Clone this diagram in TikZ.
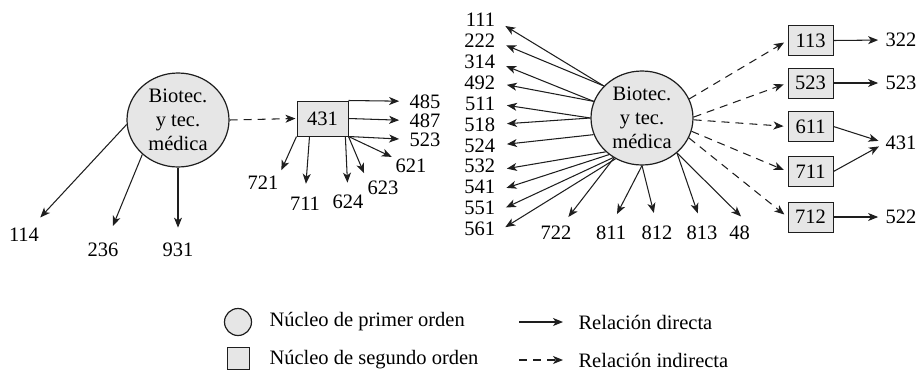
\documentclass[tikz,border=0pt]{standalone}
\usepackage{fontspec}
\setmainfont{Liberation Serif}
\usetikzlibrary{shapes.geometric,arrows.meta,calc}
\definecolor{nodefill}{HTML}{E6E6E6}
\definecolor{ink}{HTML}{1E1E1E}
\begin{document}
\begin{tikzpicture}[x=1pt,y=-1pt, font=\fontsize{20.5}{24}\selectfont,
 core/.style={ellipse, draw=ink, line width=1.2pt, fill=nodefill, inner sep=0pt,
   minimum width=102pt, minimum height=94pt, align=center},
 sec/.style={rectangle, draw=ink, line width=1pt, fill=nodefill, inner sep=0pt,
   minimum width=45pt, minimum height=30pt},
 lab/.style={inner sep=0.5pt, outer sep=0pt},
 fan/.style={lab, anchor=east},
 rel/.style={draw=ink, line width=1.05pt, -{Stealth[length=10pt,width=8pt,inset=2.8pt]}},
 ind/.style={rel, dash pattern=on 8pt off 6pt},
]
\useasboundingbox (0,0) rectangle (919,370);

% ---------- left group ----------
\node[core] (c1) at (178,120) {Biotec.\\y tec.\\médica};
\node[sec, minimum width=51pt, minimum height=35pt] (b431) at (322.5,118.5) {431};

\node[lab] (l114) at (24,235) {114};
\node[lab] (l236) at (103,250) {236};
\node[lab] (l931) at (178,250) {931};
\node[lab] (l485) at (425,101.5) {485};
\node[lab] (l487) at (425,120.5) {487};
\node[lab] (l523a) at (425,139.5) {523};
\node[lab] (l621) at (411,166) {621};
\node[lab] (l623) at (383,188) {623};
\node[lab] (l624) at (348,202) {624};
\node[lab] (l711a) at (305,204) {711};
\node[lab] (l721) at (263,183) {721};

\draw[rel, shorten >=14pt] (c1.185) -- (l114);
\draw[rel, shorten >=18pt] (c1.224) -- (l236);
\draw[rel, shorten >=15pt] (c1.270) -- (l931);
\draw[ind, shorten >=1pt] (c1.east) -- (b431.west);

\draw[rel, shorten >=10pt] (b431.north east) -- (l485);
\draw[rel, shorten >=10pt] (b431.east) -- (l487.west);
\draw[rel, shorten >=10pt] (b431.south east) -- (l523a.west);
\draw[rel, shorten >=4pt] (b431.south east) -- (l621);
\draw[rel, shorten >=8pt] (b431.south east) -- (l623.north west);
\draw[rel, shorten >=12pt] ($(b431.south east)!0.06!(b431.south west)$) -- (l624.north);
\draw[rel, shorten >=13pt] ($(b431.south west)!0.25!(b431.south east)$) -- (l711a.north);
\draw[rel, shorten >=6pt] (b431.south west) -- (l721.north east);

% ---------- right group ----------
\node[core] (c2) at (642,118) {Biotec.\\y tec.\\médica};

\node[fan] (l111) at (495.5,20) {111};
\node[fan] (l222) at (495.5,40.9) {222};
\node[fan] (l314) at (495.5,61.8) {314};
\node[fan] (l492) at (495.5,82.7) {492};
\node[fan] (l511) at (495.5,103.6) {511};
\node[fan] (l518) at (495.5,124.5) {518};
\node[fan] (l524) at (495.5,145.4) {524};
\node[fan] (l532) at (495.5,166.3) {532};
\node[fan] (l541) at (495.5,187.2) {541};
\node[fan] (l551) at (495.5,208.1) {551};
\node[fan] (l561) at (495.5,229) {561};

\draw[rel, shorten >=11.5pt] (c2.140) -- (l111.east);
\draw[rel, shorten >=11.5pt] (c2.140) -- (l222.east);
\draw[rel, shorten >=11.5pt] (c2.161) -- (l314.east);
\draw[rel, shorten >=11.5pt] (c2.161) -- (l492.east);
\draw[rel, shorten >=11.5pt] (c2.180) -- (l511.east);
\draw[rel, shorten >=11.5pt] (c2.180) -- (l518.east);
\draw[rel, shorten >=11.5pt] (c2.199) -- (l524.east);
\draw[rel, shorten >=11.5pt] (c2.223) -- (l532.-15);
\draw[rel, shorten >=11.5pt] (c2.228) -- (l541.-15);
\draw[rel, shorten >=11.5pt] (c2.234) -- (l551.-15);
\draw[rel, shorten >=11.5pt] (c2.237) -- (l561.-15);

\node[lab] (l722) at (556,233) {722};
\node[lab] (l811) at (611,233) {811};
\node[lab] (l812) at (657,233) {812};
\node[lab] (l813) at (702,233) {813};
\node[lab] (l48) at (739.5,233) {48};

\draw[rel, shorten >=11pt] (c2.235) -- (l722);
\draw[rel, shorten >=13pt] (c2.270) -- (l811.north);
\draw[rel, shorten >=13pt] (c2.270) -- (l812.north);
\draw[rel, shorten >=13pt] (c2.-45) -- (l813.north);
\draw[rel, shorten >=13pt] (c2.-45) -- (l48.north east);

\node[sec] (b113) at (810.5,40.5) {113};
\node[sec] (b523) at (810.5,83) {523};
\node[sec] (b611) at (810.5,126.5) {611};
\node[sec] (b711) at (810.5,171.5) {711};
\node[sec] (b712) at (810.5,217) {712};

\draw[ind, shorten >=4pt] (c2.22) -- (b113.west);
\draw[ind, shorten >=4pt] (c2.1) -- (b523.west);
\draw[ind, shorten >=4pt] (c2.-2) -- (b611.west);
\draw[ind, shorten >=4pt] (c2.-15) -- (b711.west);
\draw[ind, shorten >=4pt] (c2.-23) -- (b712.west);

\node[lab] (l322) at (901,40) {322};
\node[lab] (l523b) at (901,83) {523};
\node[lab] (l431b) at (901,143) {431};
\node[lab] (l522) at (901,217) {522};

\draw[rel, shorten >=7pt] (b113.east) -- (l322.west);
\draw[rel, shorten >=7pt] (b523.east) -- (l523b.west);
\draw[rel, shorten >=7pt] (b611.east) -- (l431b.west);
\draw[rel, shorten >=7pt] (b711.east) -- (l431b.west);
\draw[rel, shorten >=7pt] (b712.east) -- (l522.west);

% ---------- legend ----------
\node[core, minimum width=27pt, minimum height=27pt] (lgc) at (238,322) {};
\node[anchor=west] (lgct) at (266,322) {Núcleo de primer orden};
\node[sec, minimum width=22pt, minimum height=22pt] (lgs) at (238.5,358.5) {};
\node[anchor=west] (lgst) at (266,360) {Núcleo de segundo orden};
\coordinate (lga1) at (519,322);
\coordinate (lga2) at (563,322);
\coordinate (lgb1) at (519,360);
\coordinate (lgb2) at (563,360);
\draw[rel] (lga1) -- (lga2);
\draw[ind] (lgb1) -- (lgb2);
\node[anchor=west] (lgat) at (575,322) {Relación directa};
\node[anchor=west] (lgbt) at (575,360) {Relación indirecta};
\end{tikzpicture}
\end{document}
